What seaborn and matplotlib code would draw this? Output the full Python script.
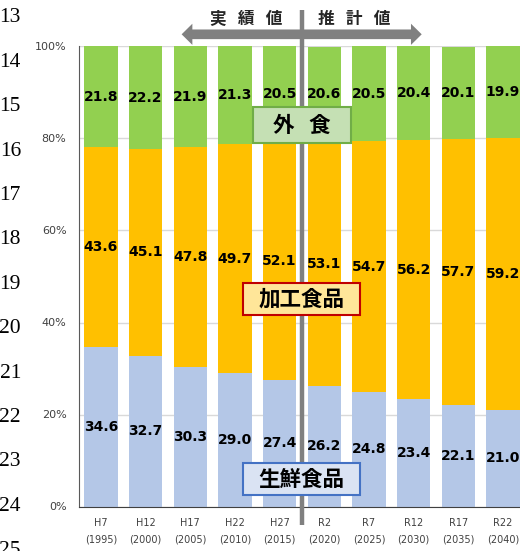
import matplotlib
matplotlib.use("Agg")
import matplotlib.pyplot as plt
from matplotlib.patches import Rectangle, FancyArrow
import seaborn as sns
import pandas as pd

# Food expenditure shares by category (%), actual and projected
periods = ["H7\n(1995)", "H12\n(2000)", "H17\n(2005)", "H22\n(2010)", "H27\n(2015)",
           "R2\n(2020)", "R7\n(2025)", "R12\n(2030)", "R17\n(2035)", "R22\n(2040)"]
fresh = [34.6, 32.7, 30.3, 29.0, 27.4, 26.2, 24.8, 23.4, 22.1, 21.0]
processed = [43.6, 45.1, 47.8, 49.7, 52.1, 53.1, 54.7, 56.2, 57.7, 59.2]
dining = [21.8, 22.2, 21.9, 21.3, 20.5, 20.6, 20.5, 20.4, 20.1, 19.9]
y_ticks = [0, 20, 40, 60, 80, 100]
line_numbers = list(range(13, 26))

GREEN = "#92D050"
ORANGE = "#FFC000"
BLUE = "#B4C7E7"
GRAY = "#808080"
CJK = ["Noto Sans CJK JP", "DejaVu Sans"]

df = pd.DataFrame({"period": periods, "fresh": fresh,
                   "processed": processed, "dining": dining})
df["fresh_top"] = df["fresh"]
df["processed_top"] = df["fresh"] + df["processed"]
df["total"] = df["processed_top"] + df["dining"]

W, H = 520, 551
fig = plt.figure(figsize=(W / 100, H / 100), dpi=100)
ax = fig.add_axes([79 / W, 1 - 506.5 / H, 441 / W, 460 / H])

# stacked bars: draw cumulative heights from the tallest down
for col, color in [("total", GREEN), ("processed_top", ORANGE), ("fresh_top", BLUE)]:
    sns.barplot(data=df, x="period", y=col, color=color, width=0.75,
                saturation=1, errorbar=None, linewidth=0, ax=ax, zorder=2)

ax.set_xlim(-0.49, 9.38)
ax.set_ylim(0, 100)
ax.set_xlabel("")
ax.set_ylabel("")
ax.set_yticks(y_ticks)
ax.set_yticklabels([f"{t}%" for t in y_ticks])
ax.tick_params(axis="y", length=0, pad=9, labelsize=8, labelcolor="#404040")
ax.tick_params(axis="x", length=0, pad=8, labelsize=7, labelcolor="#404040")
for lab in ax.get_xticklabels():
    lab.set_linespacing(1.8)
ax.yaxis.grid(True, color="#D9D9D9", linewidth=1, zorder=0)
ax.set_axisbelow(True)
for s in ["top", "right"]:
    ax.spines[s].set_visible(False)
ax.spines["left"].set_color("#595959")
ax.spines["bottom"].set_color("#404040")

# segment value labels
for i in range(len(periods)):
    base = 0.0
    for v in (fresh[i], processed[i], dining[i]):
        ax.text(i, base + v / 2, f"{v:.1f}", ha="center", va="center",
                fontsize=10, fontweight="bold", color="black", zorder=5)
        base += v

# divider between actual and projected values
ax.plot([4.5, 4.5], [-4.0, 108.0], color=GRAY, lw=3.2, clip_on=False, zorder=4,
        solid_capstyle="butt")
arrow_y = 102.65
for tip in (1.807, 7.18):
    ax.add_patch(FancyArrow(4.5, arrow_y, tip - 4.5, 0, width=2.1, head_width=4.6,
                            head_length=0.24, length_includes_head=True,
                            color=GRAY, lw=0, clip_on=False, zorder=4))
ax.text(3.25, 105.9, "実   績   値", ha="center", va="center", fontsize=12,
        fontweight="bold", family=CJK, color="#262626", clip_on=False)
ax.text(5.66, 105.9, "推   計   値", ha="center", va="center", fontsize=12,
        fontweight="bold", family=CJK, color="#262626", clip_on=False)


def label_box(text, x0, y0, w, h, face, edge):
    ax.add_patch(Rectangle((x0, y0), w, h, facecolor=face, edgecolor=edge,
                           lw=1.5, zorder=6))
    ax.text(x0 + w / 2, y0 + h / 2, text, ha="center", va="center",
            fontsize=15.5, fontweight="bold", family=CJK, color="black", zorder=7)


label_box("外   食", 3.40, 79.0, 2.20, 7.85, "#C5E0B4", "#70AD47")
label_box("加工食品", 3.18, 41.6, 2.62, 7.0, "#FFE699", "#C00000")
label_box("生鮮食品", 3.18, 2.5, 2.62, 6.96, "#DAE3F3", "#4472C4")

# document line numbers along the left margin
for k, n in enumerate(line_numbers):
    fig.text(21 / W, 1 - (22.5 + 44.4 * k) / H, str(n), ha="right", va="baseline",
             fontsize=15.5, family="Liberation Serif", color="black")

fig.savefig("out.png", dpi=100)
